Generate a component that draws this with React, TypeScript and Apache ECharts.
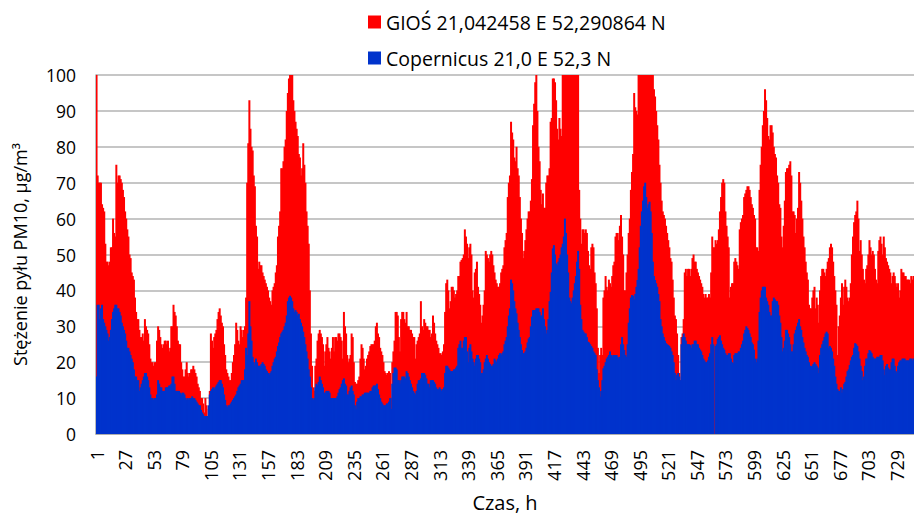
import React, { useEffect, useRef } from "react";
import * as echarts from "echarts";

const GIOS_NAME = "GIOŚ 21,042458 E 52,290864 N";
const COP_NAME = "Copernicus 21,0 E 52,3 N";

// GIOŚ hourly PM10 (µg/m³), hours 1..744 (values above 100 are cut off by the axis)
const giosValues: number[] = [
  110,72,70,70,70,64,63,62,53,48,48,47,48,52,52,60,56,55,75,70,
  72,72,71,70,68,66,62,60,57,55,50,49,45,44,43,38,34,32,32,29,
  27,27,28,26,32,30,29,28,25,21,20,20,19,20,20,26,30,29,27,25,
  24,25,26,26,25,26,
  23,24,30,30,36,34,33,30,26,25,25,20,18,16,16,18,20,17,16,17,
  18,18,19,18,17,16,14,13,12,10,10,8.5,6,10,8,5,7,12,28,26,
  24,27,28,29,32,34,35,33,31,30,25,22,18,17,16,15,15,17,20,22,
  25,31,29,26,25,30,29,27,
  29,30,38,70,81,93,85,80,79,72,69,58,55,46,48,47,47,45,44,43,
  42,41,40,38,37,36,40,41,42,45,47,55,58,62,74,74,76,80,82,90,
  95,99,102,105,100,93,90,87,85,83,78,77,72,74,81,75,70,62,58,53,
  40,28,19,13,12,19,21,
  26,28,29,28,27,25,19,23,25,27,24,23,21,24,27,23,27,27,26,28,
  28,27,26,21,34,30,28,22,20,21,22,28,27,20,14.5,14,14,15,16,21,
  25,24,21,18,19,21,22,23,24.5,25,25,25,26,30,31,28,27,24,23,22,
  20,17.5,17,16.5,17,17.5,17,10,20,
  23,26,34,34,33,27,23,32,34,34,32,31,34,30,30,29,29,28,27,27,
  21,25,26,27,28,37,30,29,32,31,30,30,29,29,27,28,33,31,28,26,
  25,24,22.5,22.5,22,23,25,34,42,43,40,35,37,41,41,40,38,39,40,44,
  44,48,48.5,49,50,57,55,53,
  49,52,53,50,40,38,45,46,48,41,39,36,31,33,36,40,51,50,49,48,
  50,51,50,47,45,43,42,41,41,42,45,46,47,52,54,56,66,70,72,87,
  84,82,77,76,80,74,72,66,60,56,49,51,54,57,60,62,62,65,71,86,
  92,98,101,90,80,76,68,64,
  67,63,63,70,72,72,74,87,88,99,99,98,93,85,82,88,85,83,105,110,
  108,115,112,120,110,108,112,106,104,110,108,105,102,68,60,53,57,57,56,57,
  56,51,47,46,52,53,52,45,42,35,24,17,22,24,22,38,40,44,41,40,
  43,42,41,44,47,48,55,56,
  56,54,58,61,55,50,40,40,45,50,56,60,68,73,78,95,91,90,89,102,
  110,115,120,118,125,122,115,118,110,106,104,103,101,96,94,90,86,82,75,70,
  65,62,61,60,58,56,54,52,49,48,43,38,33,32,28,22,17,15,27,28,
  32,45,46,44,46,46,44,
  46,49,50,48,48,46,45,44,43,42,41,39,38,39,38,38,39,38,45,55,
  52,52,54,53,54,57,62,66,70,71,70,62,58,55,52,38,41,42,42,48,
  49,48,47,46,57,59,60,61,66,67,68,69,69,68,66,64,63,61,60,52,
  52,51,68,75,80,86,90,96,
  93,88,83,82,86,86,84,80,78,77,72,70,64,63,55,52,58,65,73,74,
  74,75,76,72,62,62,61,56,60,63,73,70,65,60,55,52,48,45,43,36,
  35,35,38,40,41,35,38,36,31,40,44,46,46,45,44,46,48,49,52,53,
  52,48,44,40,36,22,30,33,
  38,42,36,41,43,41,38,37,38,42,50,55,59,61,62,65,60,51,54,50,
  46,43,42,46,47,50,54,52,50,51,50,46,43,42,51,54,55,53,50,55,
  52,49,48,47,46,45,42,44,45,44,42,41,42,38,40,46,45,45,44,44,
  43,43,43,42,44,43,44,
];

// Copernicus hourly PM10 (µg/m³), hours 1..744
const copernicusValues: number[] = [
  16,36,36,32,35,36,32,31,30,29,28,26,27,29,32,34,35,36,36,35,
  35,34,33,31,30,29,28,26,24,24,23,22,21,20,18,16,16,15,15,12,
  13,14,15,16,17,17,16,15,13,11,10,10,9.5,10,10,11,15,14,13,13,
  12,12,12,13,13,13,
  13.5,13.5,14,16,16,14,12,12,12,12,11.5,11,11.5,11.5,11,10,9.5,10,9.5,10,
  10,10.5,10,10,9.5,9,8.5,8,8,6.7,6,5.5,5,5,5,5,8,11,12,12.5,
  13,12.5,13,13.5,14,14.5,15,15,14,13,11,9.5,8,7.5,8,8,8.5,9,9.5,10,
  10.5,11,12,13,13.5,14,15,15,
  15,18,24,22,28,37,30,26,21.5,20,19,21,20,19,19,19,19.5,20,19.5,19,
  18,17.5,17,16.5,17,17.5,19,20,21,21.5,23,24.5,25.5,27,28,28.5,29,30,31,33,
  37,38,38.5,38,37,35,34,34.5,34,33,33.5,32,31,30,28.5,27,25,23,21,18,
  16,13,10,9.5,10,13,14,
  13.5,14.5,16,15,14,13,11.5,11.5,12,12,12,11.5,10,10,10,10,10,10,10.5,11.5,
  12.5,13,14,15,15.5,14,13.5,11,11,12,13,13.5,12,11,8,7,9,10,10,10.5,
  10.5,11,11,11.5,11.5,11.5,11.5,11.5,12,12,13,13.5,13.5,13.5,14,12.5,11,10,9,8.5,
  8,8,8,8.5,8.5,9,10,7,14,
  17,18.5,18.5,18,15,15,14,15,16,16,16,15.5,17.5,17,16,15,14,13,12,11.5,
  11,12,14,15,15,15.5,17,17,17,16.5,15.5,14,14,13,15,15,15,14.5,14,13,
  12.5,12.5,13,12.5,12,12.5,13,17,19,19,18.5,18,17.5,17.5,17.5,18,18,18.5,19,24,
  25,26,24,24,26,27,27,23,
  20,24,25,23,21,20,19,21,22,22,21,20,17,17,18,20,21,22,21,20,
  19.5,19,19,19.5,21,20.5,20,21,22,22.5,22,22.5,23,25,26,27,30,33,35,43,
  42,40,37,35,33.6,31,29,27,25,23.4,22.5,22.5,23,24,25.5,26.6,27,30,32.7,34.5,
  34.5,34.5,35,35,35,34,33,33,
  35,32,30,28,29,32,37,39.6,45,51.7,52.6,50,47.5,47,48,49,50,52,53,55,
  60,56,50,45,38,37,36.4,38,40,42,44,48,51,46,36,32,29,28.5,28,28,
  27,25.7,25.5,25,24.5,24,23,22.5,22,18,15,13,10.4,12,15,18.3,19,20,21,21.5,
  22,23,22,21.5,22,22,22,22,
  21.5,21,21.5,25,27,25,23.4,22,21.5,25,31,35,38,38.7,38.5,37.5,39,41,42.9,46,
  52,58,62,65,69,70,66,63,64,64.7,62,56,48,44,42.9,42,41,39,37,32,
  30,28,27,26,25.3,25,24.8,24.5,24,23,22,20,17,15,16.5,17,16,15,25,27,
  28,27,26,25,25,25,24.8,
  24,25,25,26,26,25,25,24,23.5,23,22,21,20.5,20,20,20.5,21.5,22.5,25,27,
  25,0,24.5,25,26.5,27,27.5,26,25,24,23.5,22.5,22,22,22.5,22.5,21,20,19.7,22,
  22.5,22.5,22.5,23,23,24,25,26,28,29,30,29.5,29,28,27,25.5,25,23.5,21,20,
  21,26,34,38,40,41,41,41,
  38,37,36,34,33,33,37,38,37.5,37,37,36,33,31,27,23,24,26,29,29,
  28,27,25,23,23,25,28,29,30,31,32,30,29,27,25.5,24,23,22,21.5,20,
  19,18.8,19,19.5,20,19.5,19,18.5,17,22,24,25,26,27,28,28.5,28,24,24.5,24,
  23,21,19,16,14,12.5,12,12,
  13,11.5,12.5,14,14.5,16,17.5,18,19.2,20.5,21.5,22,24,25.3,25,24.5,23,21,19,17.5,
  15,16,19,21,21,22.5,23.4,23,22.5,21.5,21,21,21,21.5,21.5,21.5,22,22,20.5,18,
  16.4,19,19.5,18.5,18,18,20,21,21,19,17.5,17,19,20,20.5,20.5,21,21,21,20.5,
  20.5,20.5,20.5,21,21,20.5,21,
];

// hour categories (1..744); every 26th is labelled: 1, 27, 53, ... 729
const hours: string[] = giosValues.map((_, i) => String(i + 1));

const FONT = "'Open Sans', 'DejaVu Sans', sans-serif";

export default function App() {
  const ref = useRef<HTMLDivElement>(null);

  useEffect(() => {
    if (!ref.current) return;
    const chart = echarts.init(ref.current, undefined, { renderer: "svg" });
    chart.setOption({
      animation: false,
      textStyle: { fontFamily: FONT },
      legend: {
        orient: "vertical",
        left: 363,
        top: 7,
        itemWidth: 13,
        itemHeight: 13,
        itemGap: 16,
        icon: "rect",
        textStyle: { fontSize: 19.5, color: "#000", fontFamily: FONT },
        data: [GIOS_NAME, COP_NAME],
      },
      grid: { left: 96, right: -5, top: 75, bottom: 80, containLabel: false },
      xAxis: {
        type: "category",
        data: hours,
        boundaryGap: true,
        axisLine: { show: true, lineStyle: { color: "#a6a6a6", width: 1.5 } },
        axisTick: { show: false },
        axisLabel: {
          interval: 25,
          rotate: 90,
          fontSize: 18,
          color: "#000",
          margin: 16,
          fontFamily: FONT,
        },
        name: "Czas, h",
        nameLocation: "middle",
        nameGap: 58,
        nameTextStyle: { fontSize: 20, color: "#000", fontFamily: FONT },
      },
      yAxis: {
        type: "value",
        min: 0,
        max: 100,
        interval: 10,
        axisLine: { show: true, lineStyle: { color: "#a6a6a6", width: 1.5 } },
        axisTick: { show: false },
        splitLine: { lineStyle: { color: "#b3b3b3", width: 1.5 } },
        axisLabel: { fontSize: 17.5, color: "#000", margin: 20, fontFamily: FONT },
        name: "Stężenie pyłu PM10, μg/m³",
        nameLocation: "middle",
        nameGap: 67,
        nameTextStyle: { fontSize: 18, color: "#000", fontFamily: FONT },
      },
      series: [
        {
          name: GIOS_NAME,
          type: "bar",
          data: giosValues,
          barGap: "-100%",
          barWidth: 2,
          clip: true,
          itemStyle: { color: "#FF0000" },
        },
        {
          name: COP_NAME,
          type: "bar",
          data: copernicusValues,
          barGap: "-100%",
          barWidth: 2,
          clip: true,
          itemStyle: { color: "#0033CC" },
        },
      ],
    });
    return () => chart.dispose();
  }, []);

  return (
    <div
      ref={ref}
      style={{ position: "absolute", left: 0, top: 0, width: 914, height: 517 }}
    />
  );
}
